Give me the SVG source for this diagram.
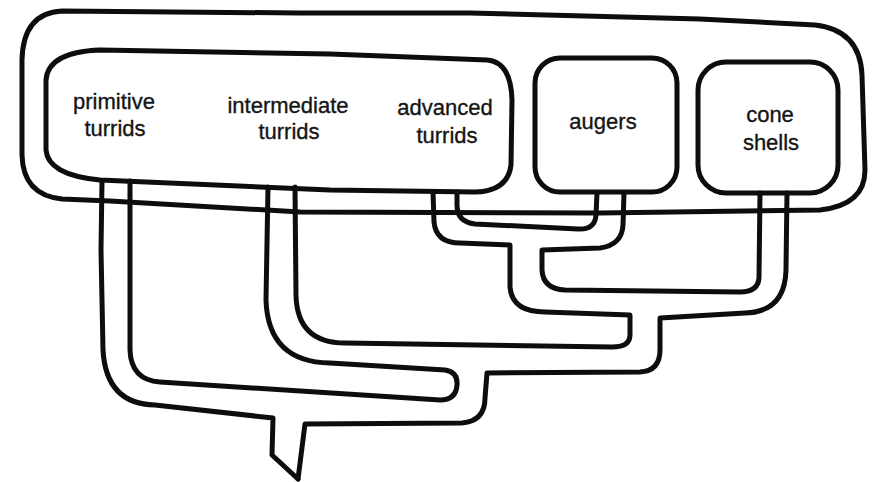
<svg xmlns="http://www.w3.org/2000/svg" width="872" height="482" viewBox="0 0 872 482">
<style>
.ln{fill:none;stroke:#0d0d0d;stroke-width:5;stroke-linecap:round;stroke-linejoin:round}
.bx{fill:#fff;stroke:#0d0d0d;stroke-width:5;stroke-linejoin:round}
.t{font-family:"Liberation Sans",Arial,sans-serif;font-size:22px;fill:#151515;stroke:#151515;stroke-width:0.35;text-anchor:middle}
</style>
<rect width="872" height="482" fill="#fff"/>
<g id="outer-clade">
<path class="bx" d="M62,11 L300,13 L470,13 L700,19 L815,25 Q860,30 862,75 L865,170 Q865,205 820,210 L600,213 L300,212 L110,201 L62,199 Q23,195 22,155 L22,60 Q23,13 62,11 Z"/>
</g>
<g id="turrids">
<path class="bx" d="M100,50 L330,54 L487,60 Q511,62 512,100 L511,165 Q508,191 475,192 L330,190 L100,180 Q48,175 46,150 L46,80 Q48,52 100,50 Z"/>
<text class="t" x="114" y="109">primitive</text>
<text class="t" x="115" y="136">turrids</text>
<text class="t" x="288" y="113">intermediate</text>
<text class="t" x="289" y="139">turrids</text>
<text class="t" x="445" y="115">advanced</text>
<text class="t" x="447" y="143">turrids</text>
</g>
<g id="augers">
<rect class="bx" x="535" y="58" width="142" height="134" rx="25"/>
<text class="t" x="603" y="129">augers</text>
</g>
<g id="cone-shells">
<rect class="bx" x="698" y="62" width="140" height="131" rx="28"/>
<text class="t" x="770" y="122">cone</text>
<text class="t" x="771" y="150">shells</text>
</g>
<g id="connectors">
<path class="ln" d="M102,181 L101,250 L103,350 Q106,404 155,405 L273,418 L272,455 L298,479"/>
<path class="ln" d="M298,479 L305,424 L462,423 Q485,421 485,398 L487,373 L640,372 Q660,371 660,350 L660,318 L745,313 Q785,312 786,270 L787,193"/>
<path class="ln" d="M760,193 L759,278 Q758,292 740,292 L565,290 Q543,289 542,270 L542,250 L600,248 Q622,245 623,225 L624,193"/>
<path class="ln" d="M597,193 L596,215 Q595,230 578,229 L475,224 Q457,222 457,205 L457,192"/>
<path class="ln" d="M433,192 L434,222 Q436,243 460,243 L510,245 L510,287 Q512,312 545,312 L630,315 L630,335 Q630,347 612,347 L345,343 Q297,343 296,295 L295,187"/>
<path class="ln" d="M268,187 L266,300 Q268,362 330,363 L445,370 Q458,372 457,385 Q456,400 440,400 L160,382 Q131,380 130,350 L130,181"/>
</g>
</svg>
